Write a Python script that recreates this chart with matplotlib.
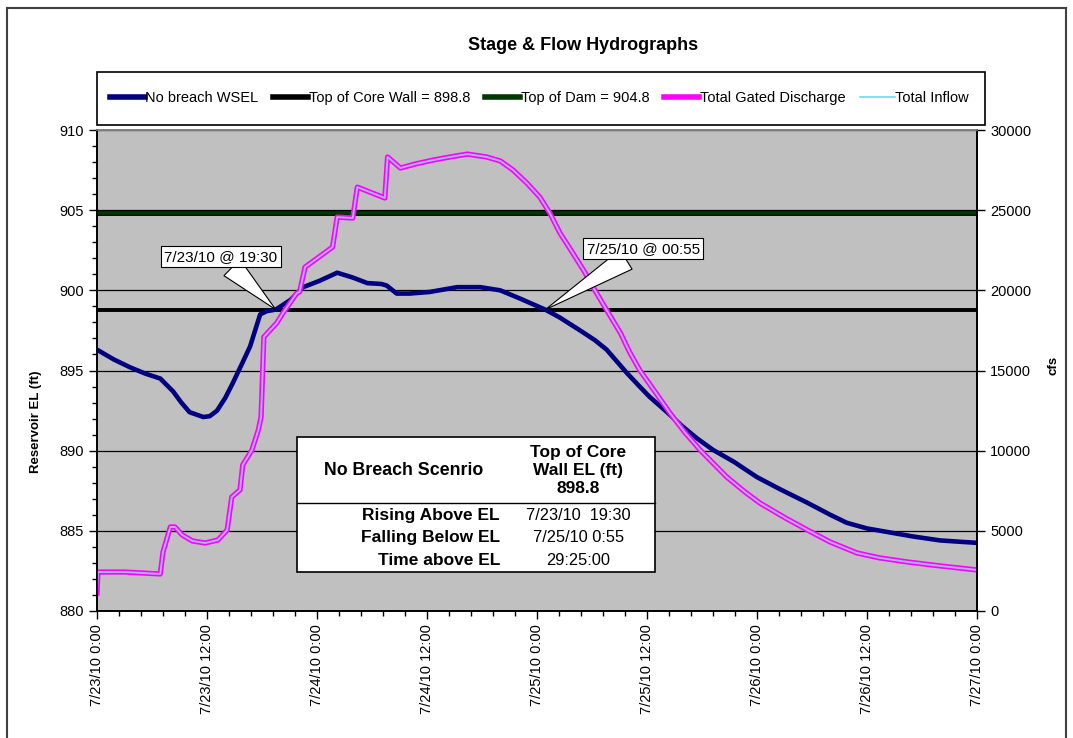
import datetime as dt
import matplotlib
matplotlib.use('Agg')
import matplotlib.pyplot as plt
import matplotlib.dates as mdates
from matplotlib.ticker import MultipleLocator, FuncFormatter
from matplotlib.patches import Rectangle
from matplotlib.lines import Line2D

plt.rcParams['font.family'] = ['Liberation Sans', 'DejaVu Sans']

START = dt.datetime(2010, 7, 23)

# reservoir water surface (no breach), hours from start -> ft
wsel_hours = [0, 1.8, 3.6, 5.3, 6.9, 8.3, 9.2, 10.1, 11.6, 12.3, 13.1, 14.0, 14.8,
              15.8, 16.7, 17.8, 18.5, 19.5, 21.1, 22.5, 24.3, 26.2, 27.9, 29.5,
              31.0, 31.6, 32.7, 34.1, 36.3, 39.3, 41.8, 44.0, 46.1, 48.9, 50.5,
              52.7, 54.3, 55.6, 57.8, 59.2, 60.3, 62.0, 63.9, 65.5, 67.2, 69.5,
              72.0, 74.5, 77.5, 80.0, 81.8, 84.0, 86.5, 89.0, 92.0, 96.0]
wsel_ft = [896.3, 895.7, 895.2, 894.8, 894.5, 893.7, 893.0, 892.4, 892.1, 892.15,
           892.5, 893.3, 894.2, 895.4, 896.5, 898.5, 898.7, 898.8, 899.4, 900.2,
           900.6, 901.1, 900.8, 900.45, 900.4, 900.3, 899.8, 899.8, 899.9, 900.2,
           900.2, 900.0, 899.5, 898.8, 898.3, 897.5, 896.9, 896.3, 894.85, 894.0,
           893.35, 892.5, 891.5, 890.75, 890.05, 889.3, 888.35, 887.6, 886.75,
           886.0, 885.5, 885.15, 884.9, 884.65, 884.4, 884.25]

# total gated discharge, hours from start -> cfs
flow_hours = [0, 0.1, 3.05, 6.9, 7.2, 8.0, 8.5, 9.3, 10.4, 11.8, 13.2, 14.2, 14.7,
              15.6, 15.9, 16.9, 17.6, 17.9, 18.2, 19.6, 20.3, 21.8, 22.1, 22.7,
              25.7, 26.2, 27.9, 28.4, 31.4, 31.7, 33.1, 34.7, 36.7, 38.5, 40.4,
              42.5, 44.0, 45.4, 46.9, 48.3, 49.4, 50.5, 51.9, 53.2, 54.3, 55.6,
              57.1, 58.1, 59.2, 60.9, 62.5, 64.1, 65.8, 67.4, 68.7, 70.7, 72.3,
              75.1, 77.5, 80.0, 82.9, 85.4, 88.4, 92.0, 96.0]
gated_discharge_cfs = [1120, 2430, 2430, 2310, 3680, 5240, 5240, 4740, 4370, 4240,
                       4430, 5050, 7110, 7550, 9110, 10040, 11290, 12100, 17090,
                       17960, 18590, 19830, 19900, 21450, 22700, 24570, 24510,
                       26440, 25760, 28320, 27630, 27880, 28130, 28320, 28500,
                       28320, 28070, 27500, 26690, 25820, 24820, 23580, 22330,
                       21140, 20020, 18770, 17340, 16150, 15030, 13660, 12350,
                       11160, 10040, 9110, 8360, 7420, 6740, 5800, 5050, 4300,
                       3620, 3310, 3060, 2810, 2560]
# inflow follows the gated discharge
total_inflow_cfs = list(gated_discharge_cfs)

CORE_WALL = 898.8
TOP_OF_DAM = 904.8

cross_labels = ['7/23/10 @ 19:30', '7/25/10 @ 00:55']
cross_hours = [19.5, 48 + 55 / 60]

table_header = ['No Breach Scenrio', 'Top of Core\nWall EL (ft)\n898.8']
table_rows = ['Rising Above EL', 'Falling Below EL', 'Time above EL']
table_values = ['7/23/10  19:30', '7/25/10 0:55', '29:25:00']


def to_times(hours):
    return [START + dt.timedelta(hours=h) for h in hours]


def fmt_date(x, pos=None):
    d = mdates.num2date(x)
    return f'{d.month}/{d.day}/{d:%y} {d.hour}:{d:%M}'


fig = plt.figure(figsize=(10.73, 7.38), dpi=100)
fig.subplots_adjust(left=0.0904, right=0.9105, top=0.8238, bottom=0.1721)
ax = fig.add_subplot(111)
ax2 = ax.twinx()

ax.set_facecolor('#C0C0C0')

# elevation axis
ax.set_ylim(880, 910)
ax.yaxis.set_major_locator(MultipleLocator(5))
ax.yaxis.set_minor_locator(MultipleLocator(1))
ax.grid(True, axis='y', which='major', color='black', lw=0.9, zorder=1)
ax.set_axisbelow(True)

t0 = mdates.date2num(START)
ax.set_xlim(t0, t0 + 4)
ax.xaxis.set_major_locator(MultipleLocator(0.5))
ax.xaxis.set_minor_locator(MultipleLocator(0.1))
ax.xaxis.set_major_formatter(FuncFormatter(fmt_date))
for lab in ax.get_xticklabels():
    lab.set_rotation(90)

ax.axhline(CORE_WALL, color='black', lw=2.8, zorder=3)
ax.axhline(TOP_OF_DAM, color='black', lw=4.2, zorder=3)
ax.axhline(TOP_OF_DAM, color='#003800', lw=2.6, zorder=3)
ax.plot(to_times(wsel_hours), wsel_ft, color='#000080', lw=3.3, zorder=4,
        solid_capstyle='round', solid_joinstyle='round')

# flow axis
ax2.set_ylim(0, 30000)
ax2.yaxis.set_major_locator(MultipleLocator(5000))
ax2.plot(to_times(flow_hours), gated_discharge_cfs, color='#FF00FF', lw=3.8, zorder=2,
         solid_joinstyle='round')
ax2.plot(to_times(flow_hours), total_inflow_cfs, color='#A8B4FF', lw=1.4, zorder=2,
         solid_joinstyle='round')

tick_kw = dict(labelsize=10.5, colors='black')
ax.tick_params(axis='both', which='major', direction='out', length=6, width=1, **tick_kw)
ax.tick_params(axis='both', which='minor', direction='out', length=3.5, width=1)
ax2.tick_params(axis='y', which='major', direction='out', length=6, width=1, **tick_kw)
for a in (ax, ax2):
    for s in a.spines.values():
        s.set_color('black')
        s.set_linewidth(1.2)
    a.spines['top'].set_color('#808080')

ax.set_ylabel('Reservoir EL (ft)', fontsize=9.5, fontweight='bold')
ax.yaxis.set_label_coords(-0.062, 0.393)
ax2.set_ylabel('cfs', fontsize=9.5, fontweight='bold')
ax2.yaxis.set_label_coords(1.08, 0.51)

# callouts at the core wall crossings
callout_offsets = [(13.5, 902.1), (59.6, 902.6)]
for lab, h, (th, te) in zip(cross_labels, cross_hours, callout_offsets):
    xy = mdates.date2num(START + dt.timedelta(hours=h))
    txy = mdates.date2num(START + dt.timedelta(hours=th))
    ax2.annotate(lab, xy=(xy, CORE_WALL), xycoords=ax.transData,
                 xytext=(txy, te), textcoords=ax.transData,
                 fontsize=11, ha='center', va='center', zorder=10,
                 bbox=dict(boxstyle='square,pad=0.22', fc='white', ec='black', lw=0.8),
                 arrowprops=dict(arrowstyle='wedge,tail_width=1.5', fc='white',
                                 ec='black', lw=0.8, shrinkA=0, shrinkB=0))

# summary table
x0, x1, yb, yt, ysep = 0.227, 0.634, 0.081, 0.362, 0.2245
ax2.add_patch(Rectangle((x0, yb), x1 - x0, yt - yb, transform=ax2.transAxes,
                        fc='white', ec='black', lw=1.2, zorder=8))
ax2.add_line(Line2D([x0, x1], [ysep, ysep], transform=ax2.transAxes,
                    color='black', lw=1.0, zorder=9))
ax2.text(0.348, 0.293, table_header[0], transform=ax2.transAxes, fontsize=12.8,
         fontweight='bold', ha='center', va='center', zorder=9)
ax2.text(0.547, 0.292, table_header[1], transform=ax2.transAxes, fontsize=12.5,
         fontweight='bold', ha='center', va='center', linespacing=1.22, zorder=9)
row_y = [0.199, 0.153, 0.106]
for lab, val, y in zip(table_rows, table_values, row_y):
    ax2.text(0.458, y, lab, transform=ax2.transAxes, fontsize=12.5,
             fontweight='bold', ha='right', va='center', zorder=9)
    ax2.text(0.547, y, val, transform=ax2.transAxes, fontsize=11.8,
             ha='center', va='center', zorder=9)

fig.text(0.543, 0.939, 'Stage & Flow Hydrographs', fontsize=13,
         fontweight='bold', ha='center', va='center')

# legend in its own box above the plot
fig.patches.append(Rectangle((0.0904, 0.8306), 0.8276, 0.0718, transform=fig.transFigure,
                             fc='white', ec='black', lw=1.2))
handles = [Line2D([], [], color='#000080', lw=4),
           Line2D([], [], color='black', lw=4),
           Line2D([], [], color='#003800', lw=4),
           Line2D([], [], color='#FF00FF', lw=4),
           Line2D([], [], color='#66DDEE', lw=1.2)]
labels = ['No breach WSEL', 'Top of Core Wall = 898.8', 'Top of Dam = 904.8',
          'Total Gated Discharge', 'Total Inflow']
fig.legend(handles, labels, loc='center', bbox_to_anchor=(0.5028, 0.8672),
           ncol=5, frameon=False, fontsize=10.5, handlelength=2.4,
           handletextpad=0.05, columnspacing=1.0)

# outer chart frame
for xs, ys in [((0.0065, 0.0065), (0, 0.989)), ((0.0065, 0.9935), (0.989, 0.989)),
               ((0.9935, 0.9935), (0, 0.989))]:
    fig.add_artist(Line2D(xs, ys, transform=fig.transFigure, color='#404040', lw=1.5))

fig.savefig('out.png', dpi=100)
